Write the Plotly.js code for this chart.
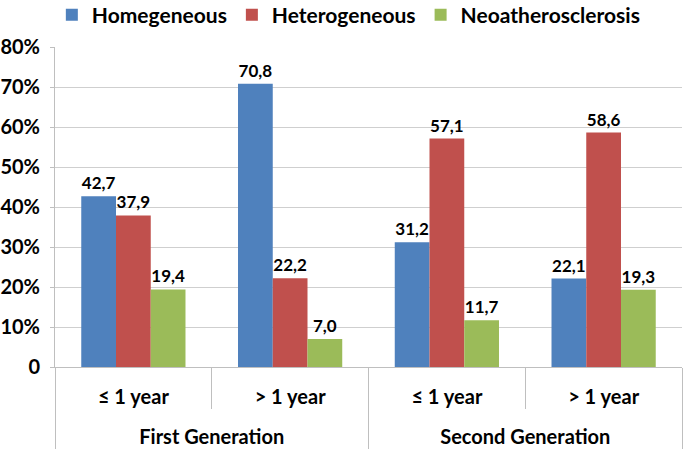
<!DOCTYPE html>
<html>
<head>
<meta charset="utf-8">
<script src="https://cdn.plot.ly/plotly-3.0.1.min.js"></script>
<style>
  html, body { margin: 0; padding: 0; background: #fff; }
  #chart { width: 684px; height: 454px; }
</style>
</head>
<body>
<div id="chart"></div>
<script>
// categories (two levels)
const generations = ['First Generation', 'First Generation', 'Second Generation', 'Second Generation'];
const periods = ['≤ 1 year', '> 1 year', '≤ 1 year', '> 1 year'];

// series values (%)
const seriesNames = ['Homegeneous', 'Heterogeneous', 'Neoatherosclerosis'];
const homogeneous = [42.7, 70.8, 31.2, 22.1];
const heterogeneous = [37.9, 22.2, 57.1, 58.6];
const neoatherosclerosis = [19.4, 7.0, 11.7, 19.3];

// y tick labels
const yTickVals = [0, 10, 20, 30, 40, 50, 60, 70, 80];
const yTickText = ['0', '10%', '20%', '30%', '40%', '50%', '60%', '70%', '80%'];

const colors = ['#4F81BD', '#C0504D', '#9BBB59'];
const FONT = 'Lato, "Open Sans", sans-serif';

// comma as decimal separator like the original
const fmt = v => v.toFixed(1).replace('.', ',');
// empty first line pushes the group label down under the period labels
const groupLabels = generations.map(g => '<br>' + g);

const traces = [homogeneous, heterogeneous, neoatherosclerosis].map((vals, i) => ({
    type: 'bar',
    name: seriesNames[i],
    x: [groupLabels, periods],
    y: vals,
    text: vals.map(fmt),
    textposition: 'outside',
    constraintext: 'none',
    cliponaxis: false,
    outsidetextfont: { family: FONT, size: 17, color: '#000', weight: 700 },
    marker: { color: colors[i] },
    hoverinfo: 'y'
}));

const layout = {
    width: 684,
    height: 454,
    margin: { l: 55, r: 2, t: 47, b: 87 },
    paper_bgcolor: '#fff',
    plot_bgcolor: '#fff',
    barmode: 'group',
    bargap: 0.335,
    bargroupgap: 0,
    font: { family: FONT, size: 17, color: '#000', weight: 700 },
    showlegend: true,
    legend: {
        orientation: 'h',
        xref: 'container',
        yref: 'container',
        x: 0.51,
        xanchor: 'center',
        y: 0.967,
        yanchor: 'middle',
        font: { family: FONT, size: 21, color: '#000', weight: 700 },
        itemclick: false
    },
    xaxis: {
        type: 'multicategory',
        showline: true,
        linecolor: '#bfbfbf',
        linewidth: 1,
        ticks: 'outside',
        tickson: 'boundaries',
        ticklen: 41,
        tickcolor: '#bfbfbf',
        ticklabelstandoff: 12,
        showdividers: true,
        dividercolor: '#bfbfbf',
        dividerwidth: 1,
        tickfont: { family: FONT, size: 20, color: '#000', weight: 700 },
        showgrid: false
    },
    yaxis: {
        range: [0, 80],
        tickvals: yTickVals,
        ticktext: yTickText,
        showline: true,
        linecolor: '#bfbfbf',
        ticks: 'outside',
        ticklen: 4,
        tickcolor: '#bfbfbf',
        ticklabelstandoff: 6,
        showgrid: true,
        gridcolor: '#cfcfcf',
        zeroline: false,
        tickfont: { family: FONT, size: 20, color: '#000', weight: 700 }
    }
};

Plotly.newPlot('chart', traces, layout, { displayModeBar: false, staticPlot: true });
</script>
</body>
</html>
